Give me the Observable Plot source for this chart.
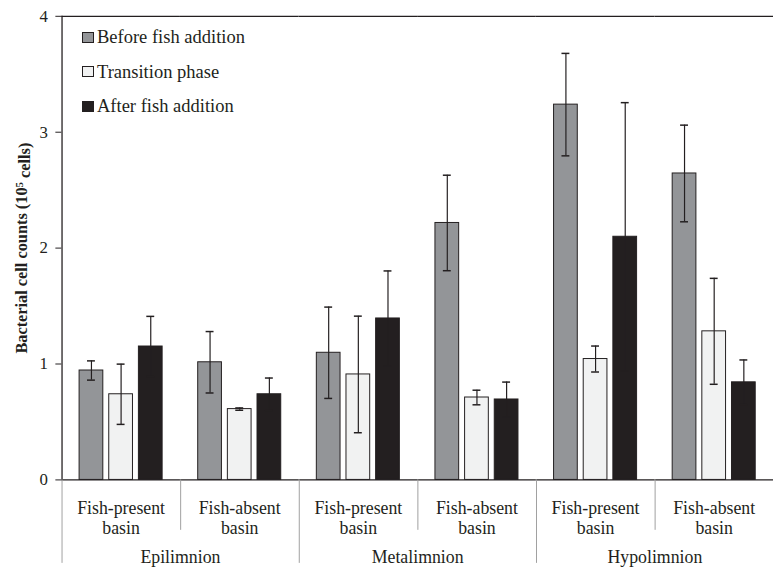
<!DOCTYPE html>
<html><head><meta charset="utf-8">
<script src="https://cdn.jsdelivr.net/npm/d3@7"></script>
<script src="https://cdn.jsdelivr.net/npm/@observablehq/plot@0.6"></script>
<style>
html,body{margin:0;padding:0;background:#fff;overflow:hidden}
#wrap{position:relative;width:774px;height:567px;overflow:hidden;font-family:"Liberation Serif","Times New Roman",serif;color:#231f20}
#legend{position:absolute;left:82px;top:26px;font-size:18.5px;line-height:22px}
#legend div{display:flex;align-items:center;height:22px;margin-bottom:12.7px}
#legend span.sw{display:inline-block;width:10px;height:9px;border:1px solid #231f20;margin-right:3px}
</style></head><body>
<div id="wrap"><div id="chart"></div><div id="legend"></div></div>
<script>
const layers = ["Epilimnion", "Metalimnion", "Hypolimnion"];
const basins = ["Fish-present basin", "Fish-absent basin"];
const phases = ["Before fish addition", "Transition phase", "After fish addition"];
const phaseColors = ["#939598", "#f1f2f2", "#231f20"];
// values per group: Epi FP, Epi FA, Meta FP, Meta FA, Hypo FP, Hypo FA
const beforeVals = [0.944, 1.015, 1.097, 2.217, 3.238, 2.644];
const beforeErr  = [0.083, 0.265, 0.394, 0.412, 0.442, 0.417];
const transVals  = [0.739, 0.611, 0.910, 0.711, 1.043, 1.282];
const transErr   = [0.260, 0.010, 0.503, 0.063, 0.112, 0.457];
const afterVals  = [1.151, 0.739, 1.393, 0.694, 2.098, 0.842];
const afterErr   = [0.260, 0.140, 0.410, 0.150, 1.157, 0.193];
const yTicks = [0, 1, 2, 3, 4];
const yTitle = "Bacterial cell counts (10⁵ cells)";

const seriesVals = [beforeVals, transVals, afterVals];
const seriesErr = [beforeErr, transErr, afterErr];
const groups = layers.flatMap(l => basins.map(b => ({key: l + "|" + b, layer: l, basin: b})));
const groupKeys = groups.map(g => g.key);
const rows = [];
groups.forEach((g, gi) => phases.forEach((p, pi) => rows.push({
  group: g.key, phase: p, value: seriesVals[pi][gi], err: seriesErr[pi][gi]
})));

const W = 783, ML = 60, MR = 0, MT = 16, MB = 82;
const pIn = 0.213, pOut = 0.582;
const facetW = (W - ML - MR) / groupKeys.length;
const step = facetW / (phases.length - pIn + 2 * pOut);
const sepDx = -(pOut * step + (1 - pIn) * step / 2);

const layerStarts = groups.filter((g, i) => i % basins.length === 0);
const basinStarts = groups.filter((g, i) => i % basins.length !== 0);

const chart = Plot.plot({
  width: W, height: 567,
  marginLeft: ML, marginRight: MR, marginTop: MT, marginBottom: MB,
  style: {fontFamily: "Liberation Serif, Times New Roman, serif", fontSize: "18px", color: "#231f20", background: "white", overflow: "visible"},
  fx: {domain: groupKeys, padding: 0, axis: null},
  x: {domain: phases, paddingInner: pIn, paddingOuter: pOut, axis: null},
  y: {domain: [0, 4], axis: null},
  color: {domain: phases, range: phaseColors},
  marks: [
    Plot.ruleY([4], {stroke: "#231f20", strokeWidth: 1.3}),
    Plot.barY(rows, {fx: "group", x: "phase", y: "value", fill: "phase", stroke: "#231f20", strokeWidth: 1}),
    Plot.ruleX(rows, {fx: "group", x: "phase", y1: d => d.value - d.err, y2: d => d.value + d.err, stroke: "#231f20", strokeWidth: 1.2}),
    Plot.tickY(rows, {fx: "group", x: "phase", y: d => d.value + d.err, stroke: "#231f20", strokeWidth: 1.5, insetLeft: 8, insetRight: 8}),
    Plot.tickY(rows, {fx: "group", x: "phase", y: d => d.value - d.err, stroke: "#231f20", strokeWidth: 1.5, insetLeft: 8, insetRight: 8}),
    Plot.ruleY([0], {stroke: "#231f20", strokeWidth: 1.3}),
    // y axis line
    Plot.ruleX([groups[0]], {fx: "key", x: () => phases[0], dx: sepDx, y1: 0, y2: 4, stroke: "#231f20", strokeWidth: 1.3}),
    // separators below axis
    Plot.ruleX(layerStarts, {fx: "key", x: () => phases[0], dx: sepDx, y1: 0, y2: -0.72, stroke: "#a0a0a0", strokeWidth: 1}),
    Plot.ruleX(basinStarts, {fx: "key", x: () => phases[0], dx: sepDx, y1: 0, y2: -0.435, stroke: "#a0a0a0", strokeWidth: 1}),
    Plot.axisY({ticks: yTicks, tickFormat: "d", tickSize: 6, tickPadding: 8, fontSize: 17, label: null}),
    Plot.text(groups, {fx: "key", text: d => d.basin.replace(" ", "\n"), frameAnchor: "bottom", dy: 54.5, lineHeight: 1.1, fontSize: 18}),
    Plot.text(layerStarts, {fx: "key", text: "layer", frameAnchor: "bottom-right", textAnchor: "middle", dy: 84, fontSize: 18}),
    Plot.text([{key: groupKeys[0], t: yTitle}], {fx: "key", text: "t", frameAnchor: "left", textAnchor: "middle", dx: -40, rotate: -90, fontWeight: "bold", fontSize: 16.5})
  ]
});
document.getElementById("chart").appendChild(chart);

// superscript in the y title
d3.select(chart).selectAll("text").each(function() {
  if (this.textContent === yTitle) {
    const el = d3.select(this);
    el.text(null);
    const [a, b] = yTitle.split("⁵");
    el.append("tspan").text(a);
    el.append("tspan").attr("dy", "-0.4em").attr("font-size", "11px").text("5");
    el.append("tspan").attr("dy", "0.4em").text(b);
  }
});

const legend = d3.select("#legend");
phases.forEach((p, i) => {
  const row = legend.append("div");
  row.append("span").attr("class", "sw").style("background", phaseColors[i]);
  row.append("span").text(p);
});
</script>
</body></html>
